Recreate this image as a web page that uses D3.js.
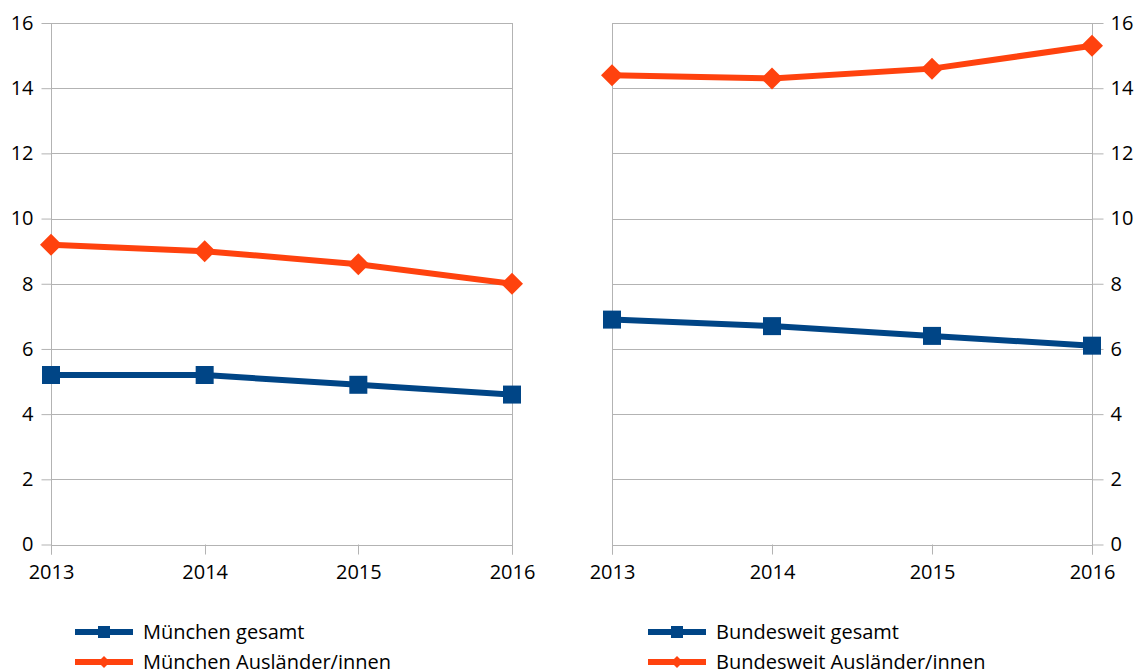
<!DOCTYPE html>
<html><head><meta charset="utf-8">
<script src="https://cdn.jsdelivr.net/npm/d3@7"></script>
<style>body{margin:0;background:#fff}svg{display:block}text{font-family:"Open Sans",sans-serif;fill:#000}</style>
</head><body>
<svg id="c" width="1137" height="670"></svg>
<script>
const years = ["2013","2014","2015","2016"];
const yTicks = [0,2,4,6,8,10,12,14,16];
const muenchenGesamt = [5.2,5.2,4.9,4.6];
const muenchenAuslaender = [9.2,9.0,8.6,8.0];
const bundGesamt = [6.9,6.7,6.4,6.1];
const bundAuslaender = [14.4,14.3,14.6,15.3];
const seriesNames = {
  left:["München gesamt","München Ausländer/innen"],
  right:["Bundesweit gesamt","Bundesweit Ausländer/innen"]
};
const BLUE="#004586", ORANGE="#ff420e", GRID="#b3b3b3";
const FS="20px";
const svg=d3.select("#c");
const y=d3.scaleLinear().domain([0,16]).range([544.5,23]);

function panel(x0,x1,side,sGes,sAus,names,legX){
  const x=d3.scalePoint().domain(years).range([x0,x1]);
  const g=svg.append("g");
  g.selectAll(".grid").data(yTicks).enter().append("line")
    .attr("x1",x0).attr("x2",x1).attr("y1",d=>Math.round(y(d))+0.5).attr("y2",d=>Math.round(y(d))+0.5)
    .attr("stroke",GRID).attr("stroke-width",1);
  [x0,x1].forEach(xx=>g.append("line").attr("x1",Math.round(xx)+0.5).attr("x2",Math.round(xx)+0.5)
    .attr("y1",y(16)).attr("y2",y(0)+10).attr("stroke",GRID));
  years.forEach(yr=>g.append("line").attr("x1",Math.round(x(yr))+0.5).attr("x2",Math.round(x(yr))+0.5)
    .attr("y1",y(0)).attr("y2",y(0)+10).attr("stroke",GRID));
  const ax = side==="left" ? d3.axisLeft(y).tickValues(yTicks).tickSize(10).tickPadding(8)
                           : d3.axisRight(y).tickValues(yTicks).tickSize(11).tickPadding(7);
  const ag=g.append("g").attr("transform",`translate(${side==="left"?Math.round(x0)+0.5:Math.round(x1)+0.5},0)`).call(ax);
  ag.select(".domain").remove();
  ag.selectAll(".tick line").attr("stroke",GRID);
  ag.selectAll(".tick text").style("font-size",FS).style("font-family","Open Sans").attr("fill","#000");
  const xa=d3.axisBottom(x).tickSize(0).tickPadding(20);
  const xg=g.append("g").attr("transform",`translate(0,${y(0)})`).call(xa);
  xg.select(".domain").remove();
  xg.selectAll(".tick text").style("font-size",FS).style("font-family","Open Sans").attr("fill","#000");
  const line=d3.line().x((d,i)=>x(years[i])).y(d=>y(d));
  [[sAus,ORANGE,"diamond"],[sGes,BLUE,"square"]].forEach(([s,c,m])=>{
    g.append("path").attr("d",line(s)).attr("fill","none").attr("stroke",c).attr("stroke-width",6);
    g.selectAll(null).data(s).enter().append("path")
      .attr("transform",(d,i)=>`translate(${x(years[i])},${y(d)})`)
      .attr("d",m==="square"?"M-9,-9H9V9H-9Z":"M0,-11L11,0L0,11L-11,0Z").attr("fill",c);
  });
  [[BLUE,"square",names[0],632],[ORANGE,"diamond",names[1],662]].forEach(([c,m,t,yy])=>{
    g.append("line").attr("x1",legX).attr("x2",legX+58).attr("y1",yy).attr("y2",yy).attr("stroke",c).attr("stroke-width",6);
    g.append("path").attr("transform",`translate(${legX+29},${yy})`)
      .attr("d",m==="square"?"M-6,-6H6V6H-6Z":"M0,-6L6,0L0,6L-6,0Z").attr("fill",c);
    g.append("text").attr("x",legX+68).attr("y",yy+7).style("font-size",FS).text(t);
  });
}
panel(51,512,"left",muenchenGesamt,muenchenAuslaender,seriesNames.left,75);
panel(612,1092,"right",bundGesamt,bundAuslaender,seriesNames.right,648);
</script>
</body></html>
